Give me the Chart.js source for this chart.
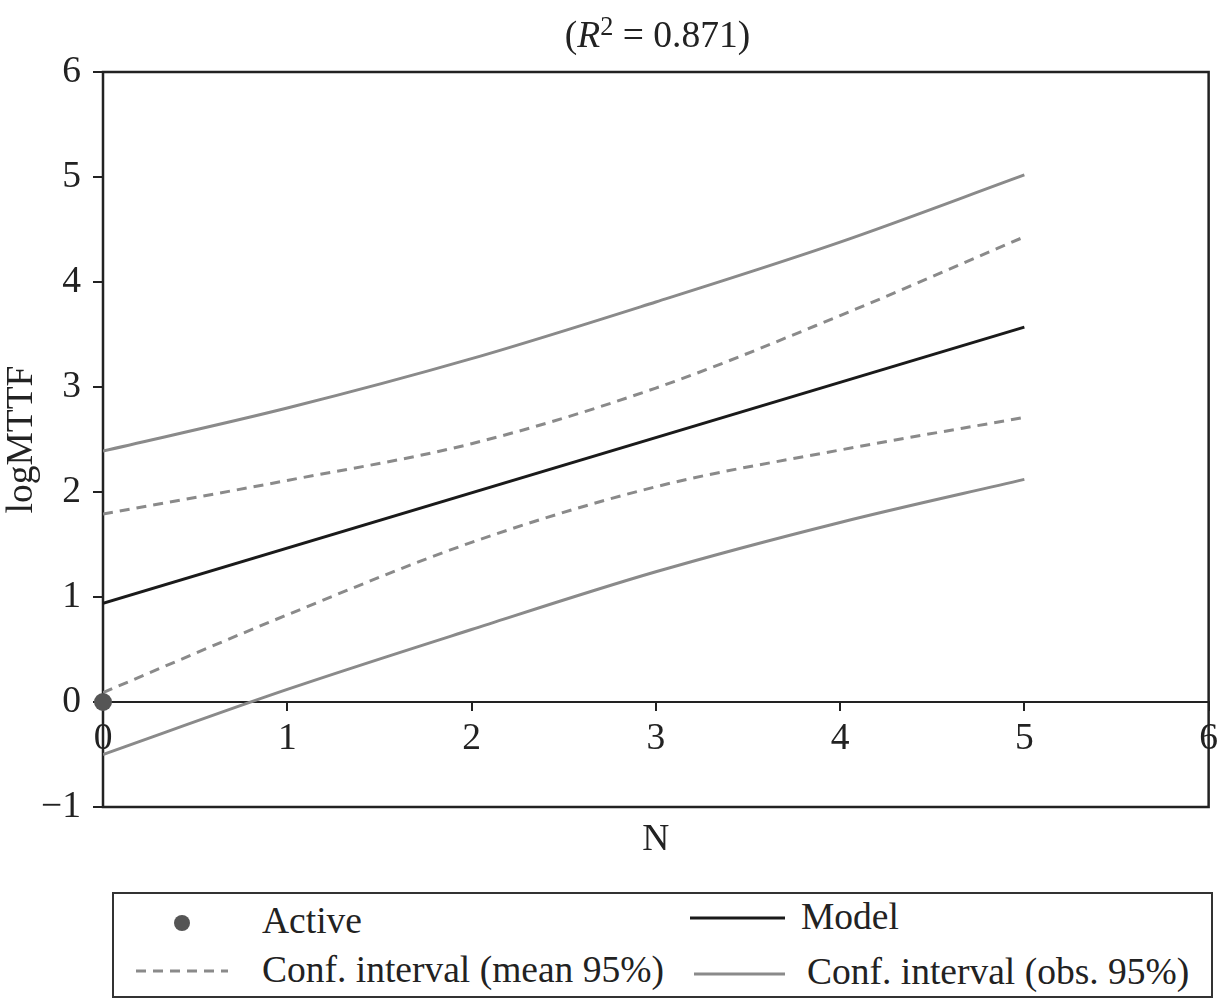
<!DOCTYPE html>
<html>
<head>
<meta charset="utf-8">
<script src="https://cdn.jsdelivr.net/npm/chart.js@4.4.1/dist/chart.umd.min.js"></script>
<style>
  body { margin: 0; background: #fff; }
  #wrap { position: relative; width: 1225px; height: 1000px; font-family: 'Liberation Serif', 'Times New Roman', serif; color: #222; }
  #title { position: absolute; left: 103px; width: 1109px; top: 35px; transform: translateY(-50%); text-align: center; font-size: 37.5px; line-height: 1; }
  #title sup { font-size: 0.7em; position: relative; top: -0.45em; vertical-align: baseline; line-height: 0; }
  #chartBox { position: absolute; left: 0; top: 0; width: 1225px; height: 880px; }
  #legend { position: absolute; left: 112px; top: 892px; width: 1097px; height: 102px; border: 2px solid #333; }
  .lg-text { position: absolute; font-size: 37.5px; line-height: 1; white-space: nowrap; transform: translateY(-50%); }
  .lg-sw { position: absolute; }
</style>
</head>
<body>
<div id="wrap">
  <div id="chartBox"><canvas id="fitChart" width="1225" height="880"></canvas></div>
  <div id="title">(<i>R</i><sup>2</sup> = 0.871)</div>
  <div id="legend"></div>
</div>
<script>
// Data
const nValues = [0, 1, 2, 3, 4, 5];
const modelN = [0, 5];
const modelY = [0.94, 3.57];
const meanUpper = [1.79, 2.11, 2.46, 2.99, 3.68, 4.43];
const meanLower = [0.09, 0.83, 1.52, 2.05, 2.40, 2.71];
const obsUpper = [2.39, 2.80, 3.27, 3.81, 4.38, 5.02];
const obsLower = [-0.50, 0.12, 0.69, 1.24, 1.71, 2.12];
const activeN = [0];
const activeY = [0];
const xTicks = [0, 1, 2, 3, 4, 5, 6];
const yTicks = [-1, 0, 1, 2, 3, 4, 5, 6];

const INK = '#222';
const GREY = '#8a8a8a';
const FONT = "'Liberation Serif', 'Times New Roman', serif";

Chart.defaults.font.family = FONT;
Chart.defaults.font.size = 37.5;
Chart.defaults.color = INK;

function pts(xs, ys) {
    return xs.map((x, i) => ({ x: x, y: ys[i] }));
}

// frame round the plot area, drawn under the datasets
const framePlugin = {
    id: 'frame',
    beforeDatasetsDraw(chart) {
        const a = chart.chartArea;
        const ctx = chart.ctx;
        ctx.save();
        ctx.strokeStyle = INK;
        ctx.lineWidth = 2.5;
        ctx.strokeRect(a.left, a.top, a.right - a.left, a.bottom - a.top);
        ctx.restore();
    }
};

const lineBase = { showLine: true, pointRadius: 0, borderWidth: 3, fill: false, cubicInterpolationMode: 'monotone' };

const datasets = [
    { label: 'Active', data: pts(activeN, activeY), showLine: false, pointRadius: 9,
      pointBackgroundColor: '#555', pointBorderWidth: 0, clip: false },
    Object.assign({ label: 'Model', data: pts(modelN, modelY), borderColor: '#1a1a1a' }, lineBase),
    Object.assign({ label: 'Conf. interval (mean 95%)', data: pts(nValues, meanUpper), borderColor: GREY, borderDash: [10, 7] }, lineBase),
    Object.assign({ label: 'Conf. interval (mean 95%)', data: pts(nValues, meanLower), borderColor: GREY, borderDash: [10, 7] }, lineBase),
    Object.assign({ label: 'Conf. interval (obs. 95%)', data: pts(nValues, obsUpper), borderColor: GREY }, lineBase),
    Object.assign({ label: 'Conf. interval (obs. 95%)', data: pts(nValues, obsLower), borderColor: GREY }, lineBase)
];

new Chart(document.getElementById('fitChart'), {
    type: 'scatter',
    data: { datasets: datasets },
    options: {
        responsive: false,
        animation: false,
        layout: { padding: { top: 72, right: 0, left: 0, bottom: 17 } },
        plugins: { legend: { display: false }, tooltip: { enabled: false } },
        scales: {
            x: {
                type: 'linear', min: xTicks[0], max: xTicks[xTicks.length - 1],
                position: { y: 0 },
                afterBuildTicks(scale) { scale.ticks = xTicks.map(v => ({ value: v })); },
                afterFit(scale) { scale.height = 0; },
                ticks: { padding: 7, color: INK },
                grid: { drawOnChartArea: false, drawTicks: true, tickLength: 8, color: INK, lineWidth: 2 },
                border: { display: true, color: INK, width: 2 }
            },
            xTitle: {
                axis: 'x', type: 'linear', position: 'bottom', min: 0, max: 6,
                ticks: { display: false },
                grid: { display: false },
                border: { display: false },
                title: { display: true, text: 'N', color: INK, padding: { top: 3, bottom: 0 } }
            },
            y: {
                type: 'linear', min: yTicks[0], max: yTicks[yTicks.length - 1],
                position: 'left',
                afterBuildTicks(scale) { scale.ticks = yTicks.map(v => ({ value: v })); },
                afterFit(scale) { scale.width = 103; },
                ticks: { padding: 12, color: INK, callback: v => String(v).replace('-', '\u2212') },
                grid: { drawOnChartArea: false, drawTicks: true, tickLength: 10, color: INK, lineWidth: 2 },
                border: { display: false },
                title: { display: true, text: 'logMTTF', color: INK, padding: 0 }
            }
        }
    },
    plugins: [framePlugin]
});

// legend box, built from the dataset labels
const legendLayout = [
    { label: datasets[0].label, kind: 'dot', sx: 182, sy: 923, tx: 262, ty: 921 },
    { label: datasets[1].label, kind: 'line', color: '#1a1a1a', dash: null, sx: 690, ex: 785, sy: 918, tx: 801, ty: 917 },
    { label: datasets[2].label, kind: 'line', color: GREY, dash: '10 7', sx: 136, ex: 228, sy: 971, tx: 262, ty: 970 },
    { label: datasets[4].label, kind: 'line', color: GREY, dash: null, sx: 694, ex: 785, sy: 974, tx: 807, ty: 972 }
];
const legend = document.getElementById('legend');
const ox = 114, oy = 894; // inner origin of the legend box
legendLayout.forEach(item => {
    const ns = 'http://www.w3.org/2000/svg';
    const svg = document.createElementNS(ns, 'svg');
    svg.setAttribute('class', 'lg-sw');
    if (item.kind === 'dot') {
        svg.setAttribute('width', 20); svg.setAttribute('height', 20);
        svg.style.left = (item.sx - ox - 10) + 'px'; svg.style.top = (item.sy - oy - 10) + 'px';
        const c = document.createElementNS(ns, 'circle');
        c.setAttribute('cx', 10); c.setAttribute('cy', 10); c.setAttribute('r', 8); c.setAttribute('fill', '#555');
        svg.appendChild(c);
    } else {
        const w = item.ex - item.sx;
        svg.setAttribute('width', w); svg.setAttribute('height', 6);
        svg.style.left = (item.sx - ox) + 'px'; svg.style.top = (item.sy - oy - 3) + 'px';
        const l = document.createElementNS(ns, 'line');
        l.setAttribute('x1', 0); l.setAttribute('x2', w); l.setAttribute('y1', 3); l.setAttribute('y2', 3);
        l.setAttribute('stroke', item.color); l.setAttribute('stroke-width', 3);
        if (item.dash) l.setAttribute('stroke-dasharray', item.dash);
        svg.appendChild(l);
    }
    legend.appendChild(svg);
    const t = document.createElement('div');
    t.className = 'lg-text';
    t.textContent = item.label;
    t.style.left = (item.tx - ox) + 'px';
    t.style.top = (item.ty - oy) + 'px';
    legend.appendChild(t);
});
</script>
</body>
</html>
